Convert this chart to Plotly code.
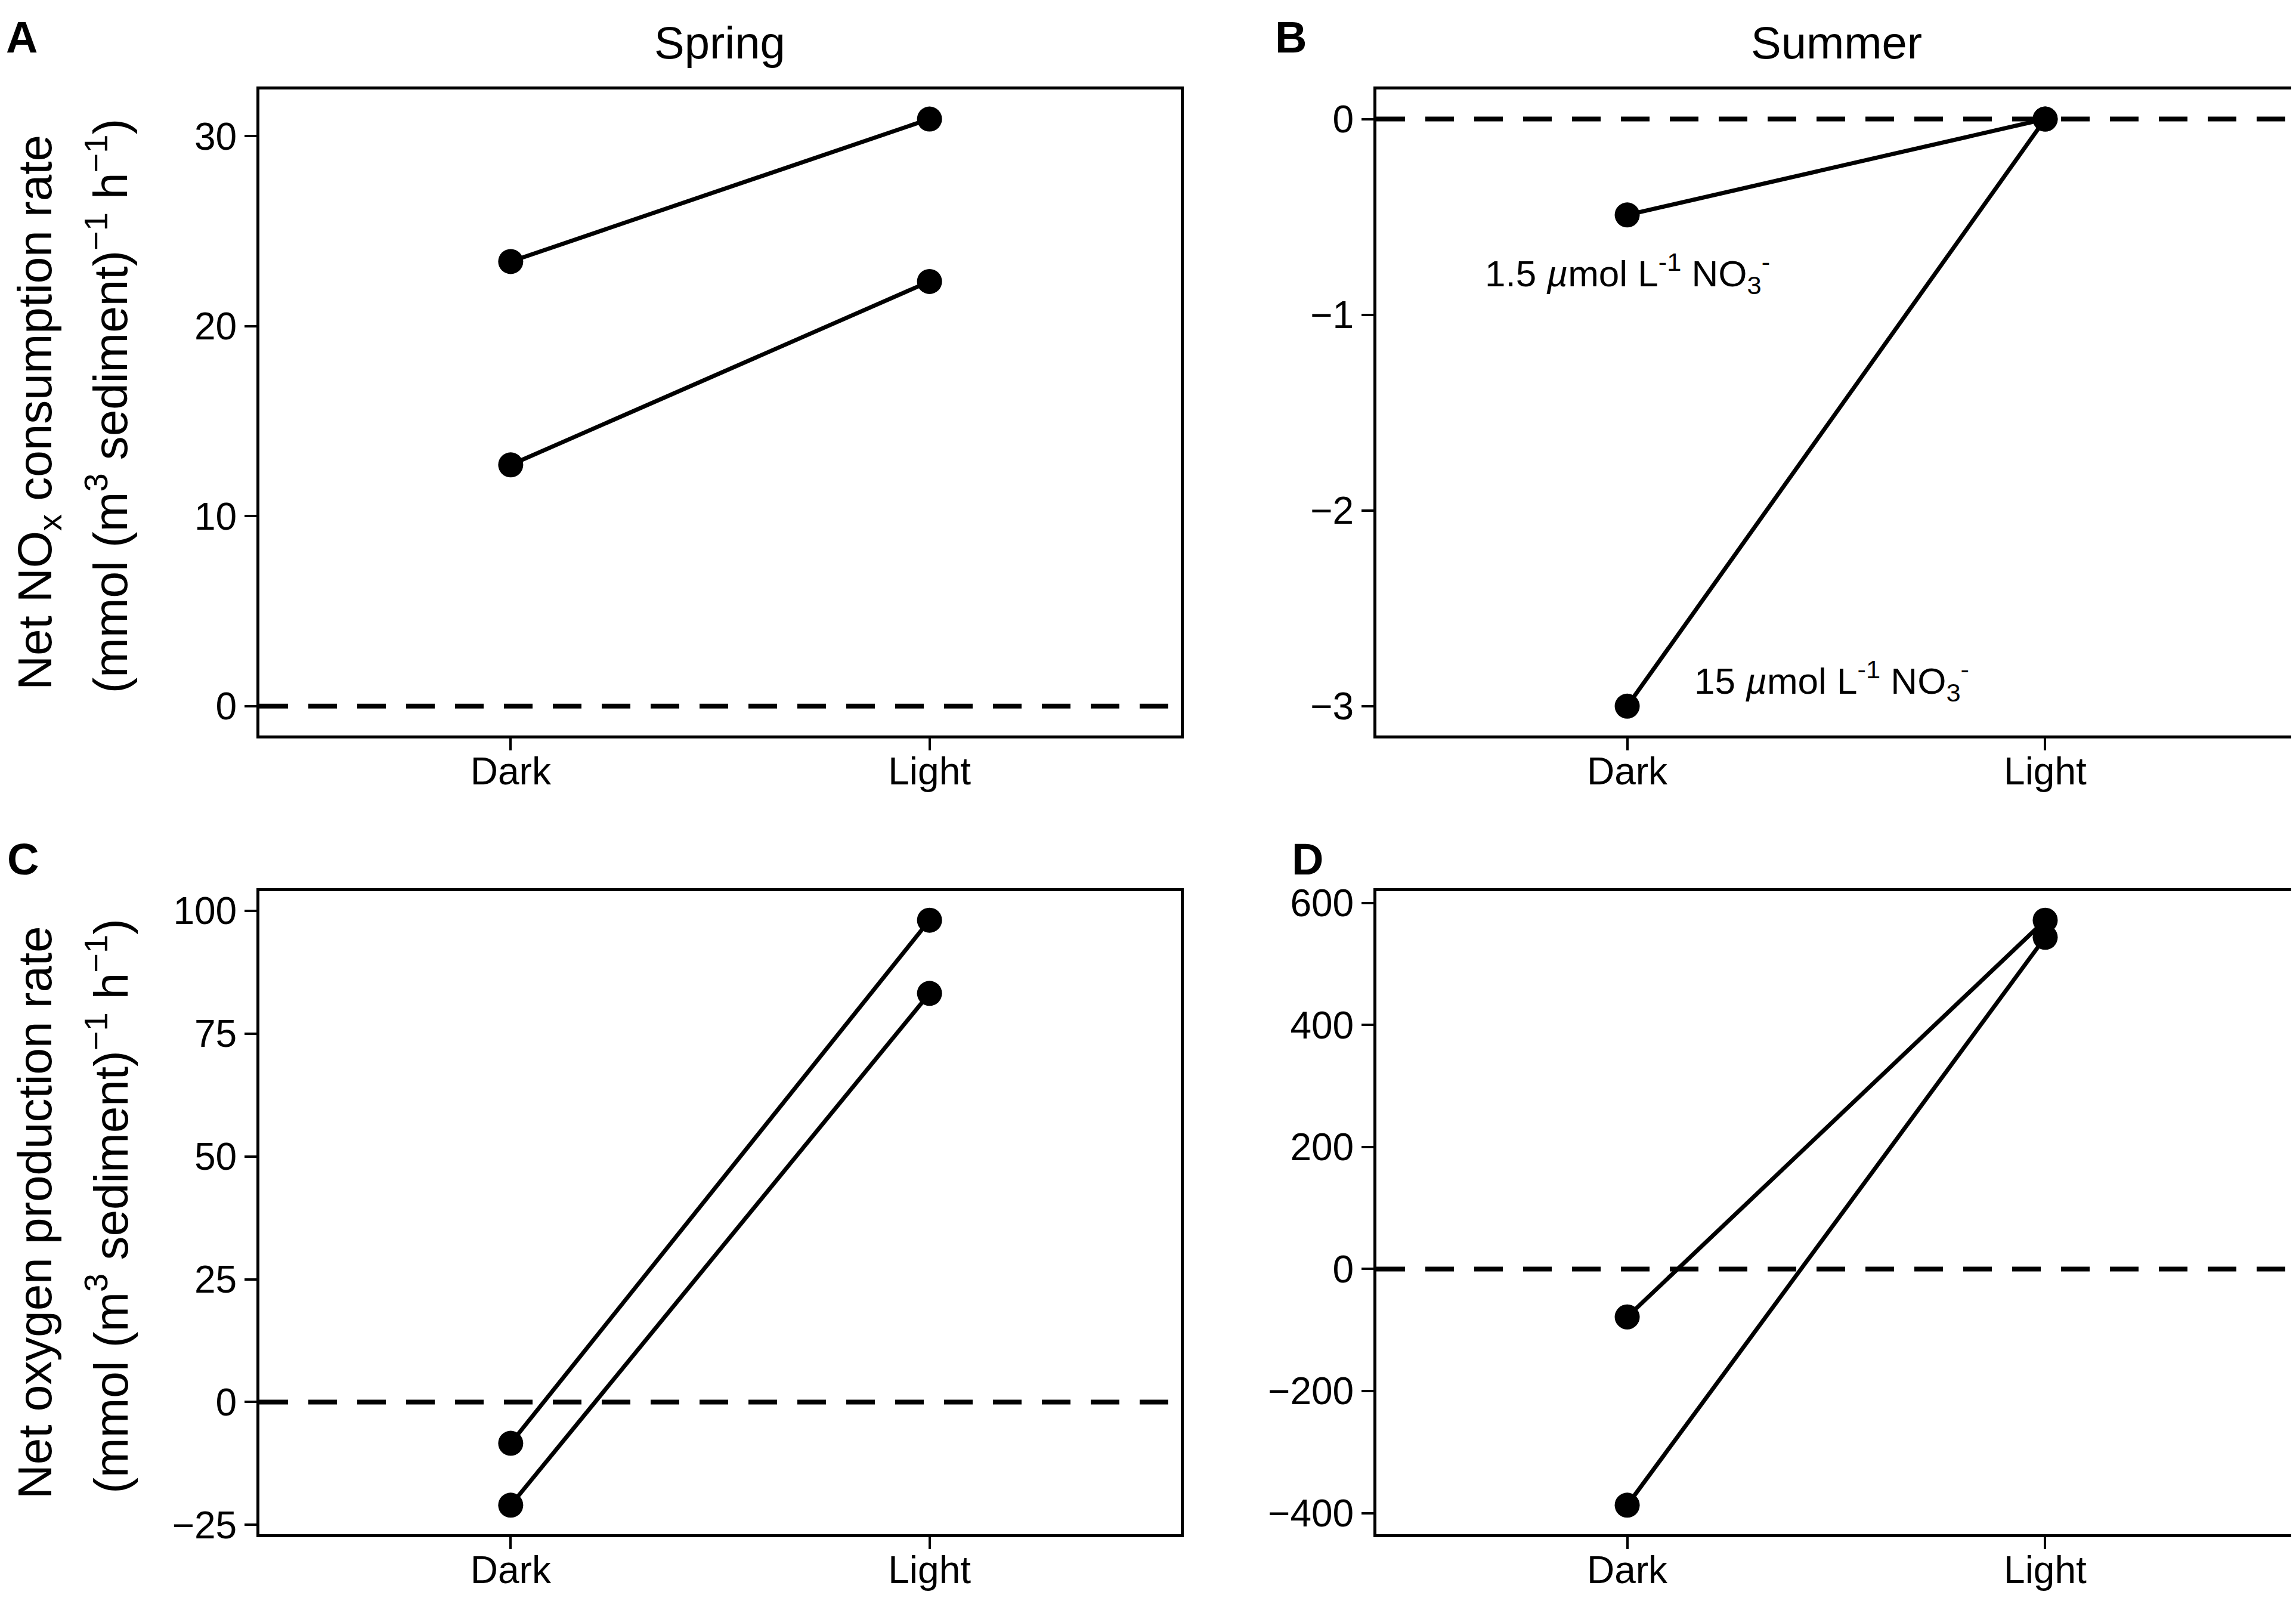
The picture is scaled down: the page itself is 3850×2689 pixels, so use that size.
import plotly.graph_objects as go

# treatment categories on the x axis
cats = ['Dark', 'Light']

# A: spring, net NOx consumption (two nitrate levels)
spring_nox_dark = [23.4, 12.7]
spring_nox_light = [30.9, 22.35]

# B: summer, net NOx consumption
summer_nox_dark = [-0.49, -3.0]
summer_nox_light = [0.0, 0.0]

# C: spring, net oxygen production
spring_o2_dark = [-8.4, -21.0]
spring_o2_light = [98.1, 83.2]

# D: summer, net oxygen production
summer_o2_dark = [-78.5, -387.0]
summer_o2_light = [571.6, 543.6]

ticks_a = [0, 10, 20, 30]
ticks_b = [-3, -2, -1, 0]
ticks_c = [-25, 0, 25, 50, 75, 100]
ticks_d = [-400, -200, 0, 200, 400, 600]

W, H = 3850, 2689
FONT = 'Liberation Sans, Arial, Helvetica, sans-serif'

fig = go.Figure()

panels = [
    ('x', 'y', spring_nox_dark, spring_nox_light, ticks_a),
    ('x2', 'y2', summer_nox_dark, summer_nox_light, ticks_b),
    ('x3', 'y3', spring_o2_dark, spring_o2_light, ticks_c),
    ('x4', 'y4', summer_o2_dark, summer_o2_light, ticks_d),
]

for xa, ya, dark, light, _ in panels:
    for d, l in zip(dark, light):
        fig.add_trace(go.Scatter(
            x=cats, y=[d, l], xaxis=xa, yaxis=ya, mode='lines+markers',
            line=dict(color='black', width=7),
            marker=dict(color='black', size=42),
            showlegend=False, hoverinfo='skip'))
    # dashed zero line across the panel
    fig.add_shape(type='line', xref=xa + ' domain', yref=ya,
                  x0=0, x1=1, y0=0, y1=0, layer='below',
                  line=dict(color='black', width=8, dash='48px,34px'))

# domains (pixels -> paper)
xdom_left = [427 / W, 1972 / W]
xdom_right = [2300 / W, 3842 / W]
ydom_top = [1 - 1226 / H, 1 - 129 / H]
ydom_bot = [1 - 2583 / H, 1 - 1490 / H]

axis_style = dict(showline=True, mirror=True, linecolor='black', linewidth=5,
                  ticks='outside', ticklen=20, tickwidth=4, tickcolor='black',
                  tickfont=dict(size=64, color='black', family=FONT),
                  showgrid=False, zeroline=False)


def yrange(vals):
    lo, hi = min(vals + [0]), max(vals + [0])
    pad = 0.05 * (hi - lo)
    return [lo - pad, hi + pad]


layout_axes = {}
doms = [(xdom_left, ydom_top), (xdom_right, ydom_top),
        (xdom_left, ydom_bot), (xdom_right, ydom_bot)]
for i, ((xa, ya, dark, light, tv), (xd, yd)) in enumerate(zip(panels, doms)):
    sfx = '' if i == 0 else str(i + 1)
    layout_axes['xaxis' + sfx] = dict(
        axis_style, domain=xd, anchor='y' + sfx, type='category',
        categoryorder='array', categoryarray=cats, range=[-0.6, 1.6],
        ticklabelstandoff=-20)
    layout_axes['yaxis' + sfx] = dict(
        axis_style, domain=yd, anchor='x' + sfx, range=yrange(dark + light),
        tickvals=tv)

fig.update_layout(**layout_axes)

ann = []
# panel letters
for txt, px, py in [('A', 0, -4), ('B', 2128, -4), ('C', 2, 1392), ('D', 2156, 1392)]:
    ann.append(dict(text='<b>%s</b>' % txt, x=px / W, y=1 - py / H, xref='paper', yref='paper',
                    xanchor='left', yanchor='top', showarrow=False,
                    font=dict(size=74, color='black', family=FONT)))
# season titles
for txt, px in [('Spring', 1199), ('Summer', 3071)]:
    ann.append(dict(text=txt, x=px / W, y=1 - 4 / H, xref='paper', yref='paper',
                    xanchor='center', yanchor='top', showarrow=False,
                    font=dict(size=76, color='black', family=FONT)))
# y axis titles (two lines each)
unit = '(mmol (m<sup>3</sup> sediment)<sup>\u22121</sup> h<sup>\u22121</sup>)'
for l1, cy in [('Net NO<sub>x</sub> consumption rate', 677),
               ('Net oxygen production rate', 2036)]:
    ann.append(dict(text=l1, x=4 / W, y=1 - cy / H, xref='paper', yref='paper',
                    xanchor='left', yanchor='middle', textangle=-90, showarrow=False,
                    font=dict(size=80, color='black', family=FONT)))
    ann.append(dict(text=unit, x=172 / W, y=1 - (cy - 10) / H, xref='paper', yref='paper',
                    xanchor='center', yanchor='middle', textangle=-90, showarrow=False,
                    font=dict(size=80, color='black', family=FONT)))
# series labels in panel B
ann.append(dict(text='1.5 <i>\u00b5</i>mol L<sup>-1</sup> NO<sub>3</sub><sup>-</sup>',
                x=0, y=-0.79, xref='x2', yref='y2', showarrow=False,
                font=dict(size=62, color='black', family=FONT)))
ann.append(dict(text='15 <i>\u00b5</i>mol L<sup>-1</sup> NO<sub>3</sub><sup>-</sup>',
                x=0.49, y=-2.87, xref='x2', yref='y2', showarrow=False,
                font=dict(size=62, color='black', family=FONT)))

fig.update_layout(
    annotations=ann,
    width=W, height=H,
    margin=dict(l=0, r=0, t=0, b=0),
    paper_bgcolor='white', plot_bgcolor='white',
    font=dict(family=FONT, color='black'),
)

fig.write_html("out.html")
